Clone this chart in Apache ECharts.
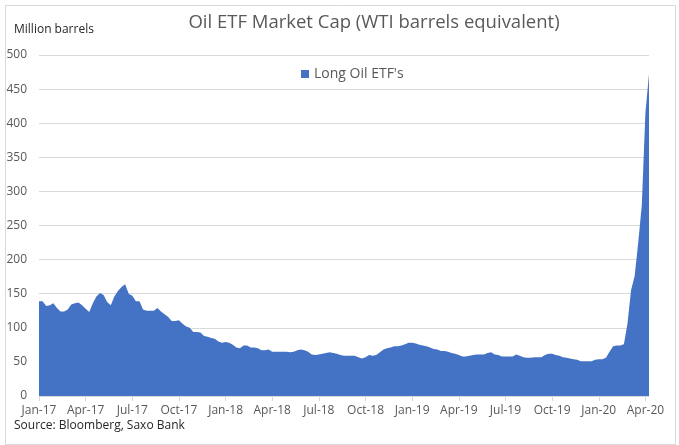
<!DOCTYPE html>
<html>
<head>
<meta charset="utf-8">
<script src="https://cdn.jsdelivr.net/npm/echarts@6/dist/echarts.min.js"></script>
<style>
html,body{margin:0;padding:0;background:#fff;}
#c{width:679px;height:445px;}
</style>
</head>
<body>
<div id="c"></div>
<script>
// Weekly observations starting Friday 6 Jan 2017
var startDate = '2017-01-06';
var longOilETF = [
  139,139,132,133,136,129,124,124,127,134,136,137,133,128,123,136,146,151,148,138,
  133,146,154,160,164,150,147,139,139,127,125,125,125,129,124,
  120,116,110,110,111,106,102,100,94,94,93,88,87,85,84,80,78,79,78,75,
  71,70,74,74,71,71,70,67,67,68,65,65,65,
  65,65,64,65,67,68,67,65,61,60,61,62,63,64,63,62,60,59,59,59,
  59,57,55,57,60,59,60,64,68,70,71,73,73,74,76,
  78,78,77,75,74,73,71,69,68,66,66,65,63,62,60,58,58,59,60,61,
  61,61,63,64,61,60,58,58,58,58,61,59,57,56,
  56,57,57,57,60,62,62,60,59,57,56,55,54,53,51,51,51,51,53,54,
  54,56,65,73,74,74,76,106,155,176,225,280,415,472
];
var tickLabels = ['Jan-17','Apr-17','Jul-17','Oct-17','Jan-18','Apr-18','Jul-18','Oct-18',
  'Jan-19','Apr-19','Jul-19','Oct-19','Jan-20','Apr-20'];
var yTicks = [0,50,100,150,200,250,300,350,400,450,500];
var seriesName = "Long Oil ETF's";

var MON = ['Jan','Feb','Mar','Apr','May','Jun','Jul','Aug','Sep','Oct','Nov','Dec'];
var categories = [];
(function(){
  var d0 = new Date(startDate + 'T00:00:00Z');
  for (var i = 0; i < longOilETF.length; i++) {
    var d = new Date(d0.getTime() + i * 7 * 86400000);
    categories.push(d.toISOString().slice(0,10));
  }
})();
function fmt(v){
  var p = v.split('-');
  return MON[parseInt(p[1],10)-1] + '-' + p[0].slice(2);
}
function isTick(idx, v){
  var p = v.split('-');
  return parseInt(p[2],10) <= 7 && tickLabels.indexOf(fmt(v)) >= 0;
}

var chart = echarts.init(document.getElementById('c'), null, {renderer:'canvas'});
var FONT = '"Open Sans", sans-serif';
chart.setOption({
  animation: false,
  backgroundColor: '#fff',
  textStyle: {fontFamily: FONT},
  legend: {
    data: [seriesName],
    left: 296, top: 62,
    icon: 'rect', itemWidth: 8, itemHeight: 8, itemGap: 6,
    textStyle: {fontFamily: FONT, fontSize: 14, color: '#595959'}
  },
  graphic: [
    {type:'rect', left: 3, top: 3, shape:{width: 670, height: 439},
     style:{fill:'none', stroke:'#d9d9d9', lineWidth:1}, silent:true},
    {type:'text', x: 374, y: 23, style:{text:'Oil ETF Market Cap (WTI barrels equivalent)', fontFamily: FONT,
      fontSize: 18.5, fill:'#595959', align:'center', verticalAlign:'middle'}},
    {type:'text', left: 14, top: 24, style:{text:'Million barrels', fontFamily: FONT, fontSize: 12, fill:'#262626'}},
    {type:'text', left: 14, top: 420, style:{text:'Source: Bloomberg, Saxo Bank', fontFamily: FONT, fontSize: 12, fill:'#262626'}}
  ],
  grid: {left: 39, right: 30, top: 55, bottom: 49, containLabel: false},
  xAxis: {
    type: 'category',
    data: categories,
    boundaryGap: false,
    axisLine: {show: true, lineStyle: {color: '#d9d9d9'}},
    axisTick: {show: true, interval: isTick, length: 5, lineStyle: {color: '#d9d9d9'}},
    axisLabel: {interval: isTick, formatter: fmt, color: '#595959', fontSize: 12, margin: 9, fontFamily: FONT},
    splitLine: {show: false}
  },
  yAxis: {
    type: 'value',
    min: yTicks[0], max: yTicks[yTicks.length-1], interval: 50,
    axisLine: {show: false},
    axisTick: {show: false},
    axisLabel: {color: '#595959', fontSize: 12, margin: 12, fontFamily: FONT},
    splitLine: {lineStyle: {color: '#d9d9d9'}}
  },
  series: [{
    name: seriesName,
    type: 'line',
    data: longOilETF,
    symbol: 'none',
    lineStyle: {width: 0},
    itemStyle: {color: '#4472C4'},
    areaStyle: {color: '#4472C4', opacity: 1}
  }]
});
</script>
</body>
</html>
